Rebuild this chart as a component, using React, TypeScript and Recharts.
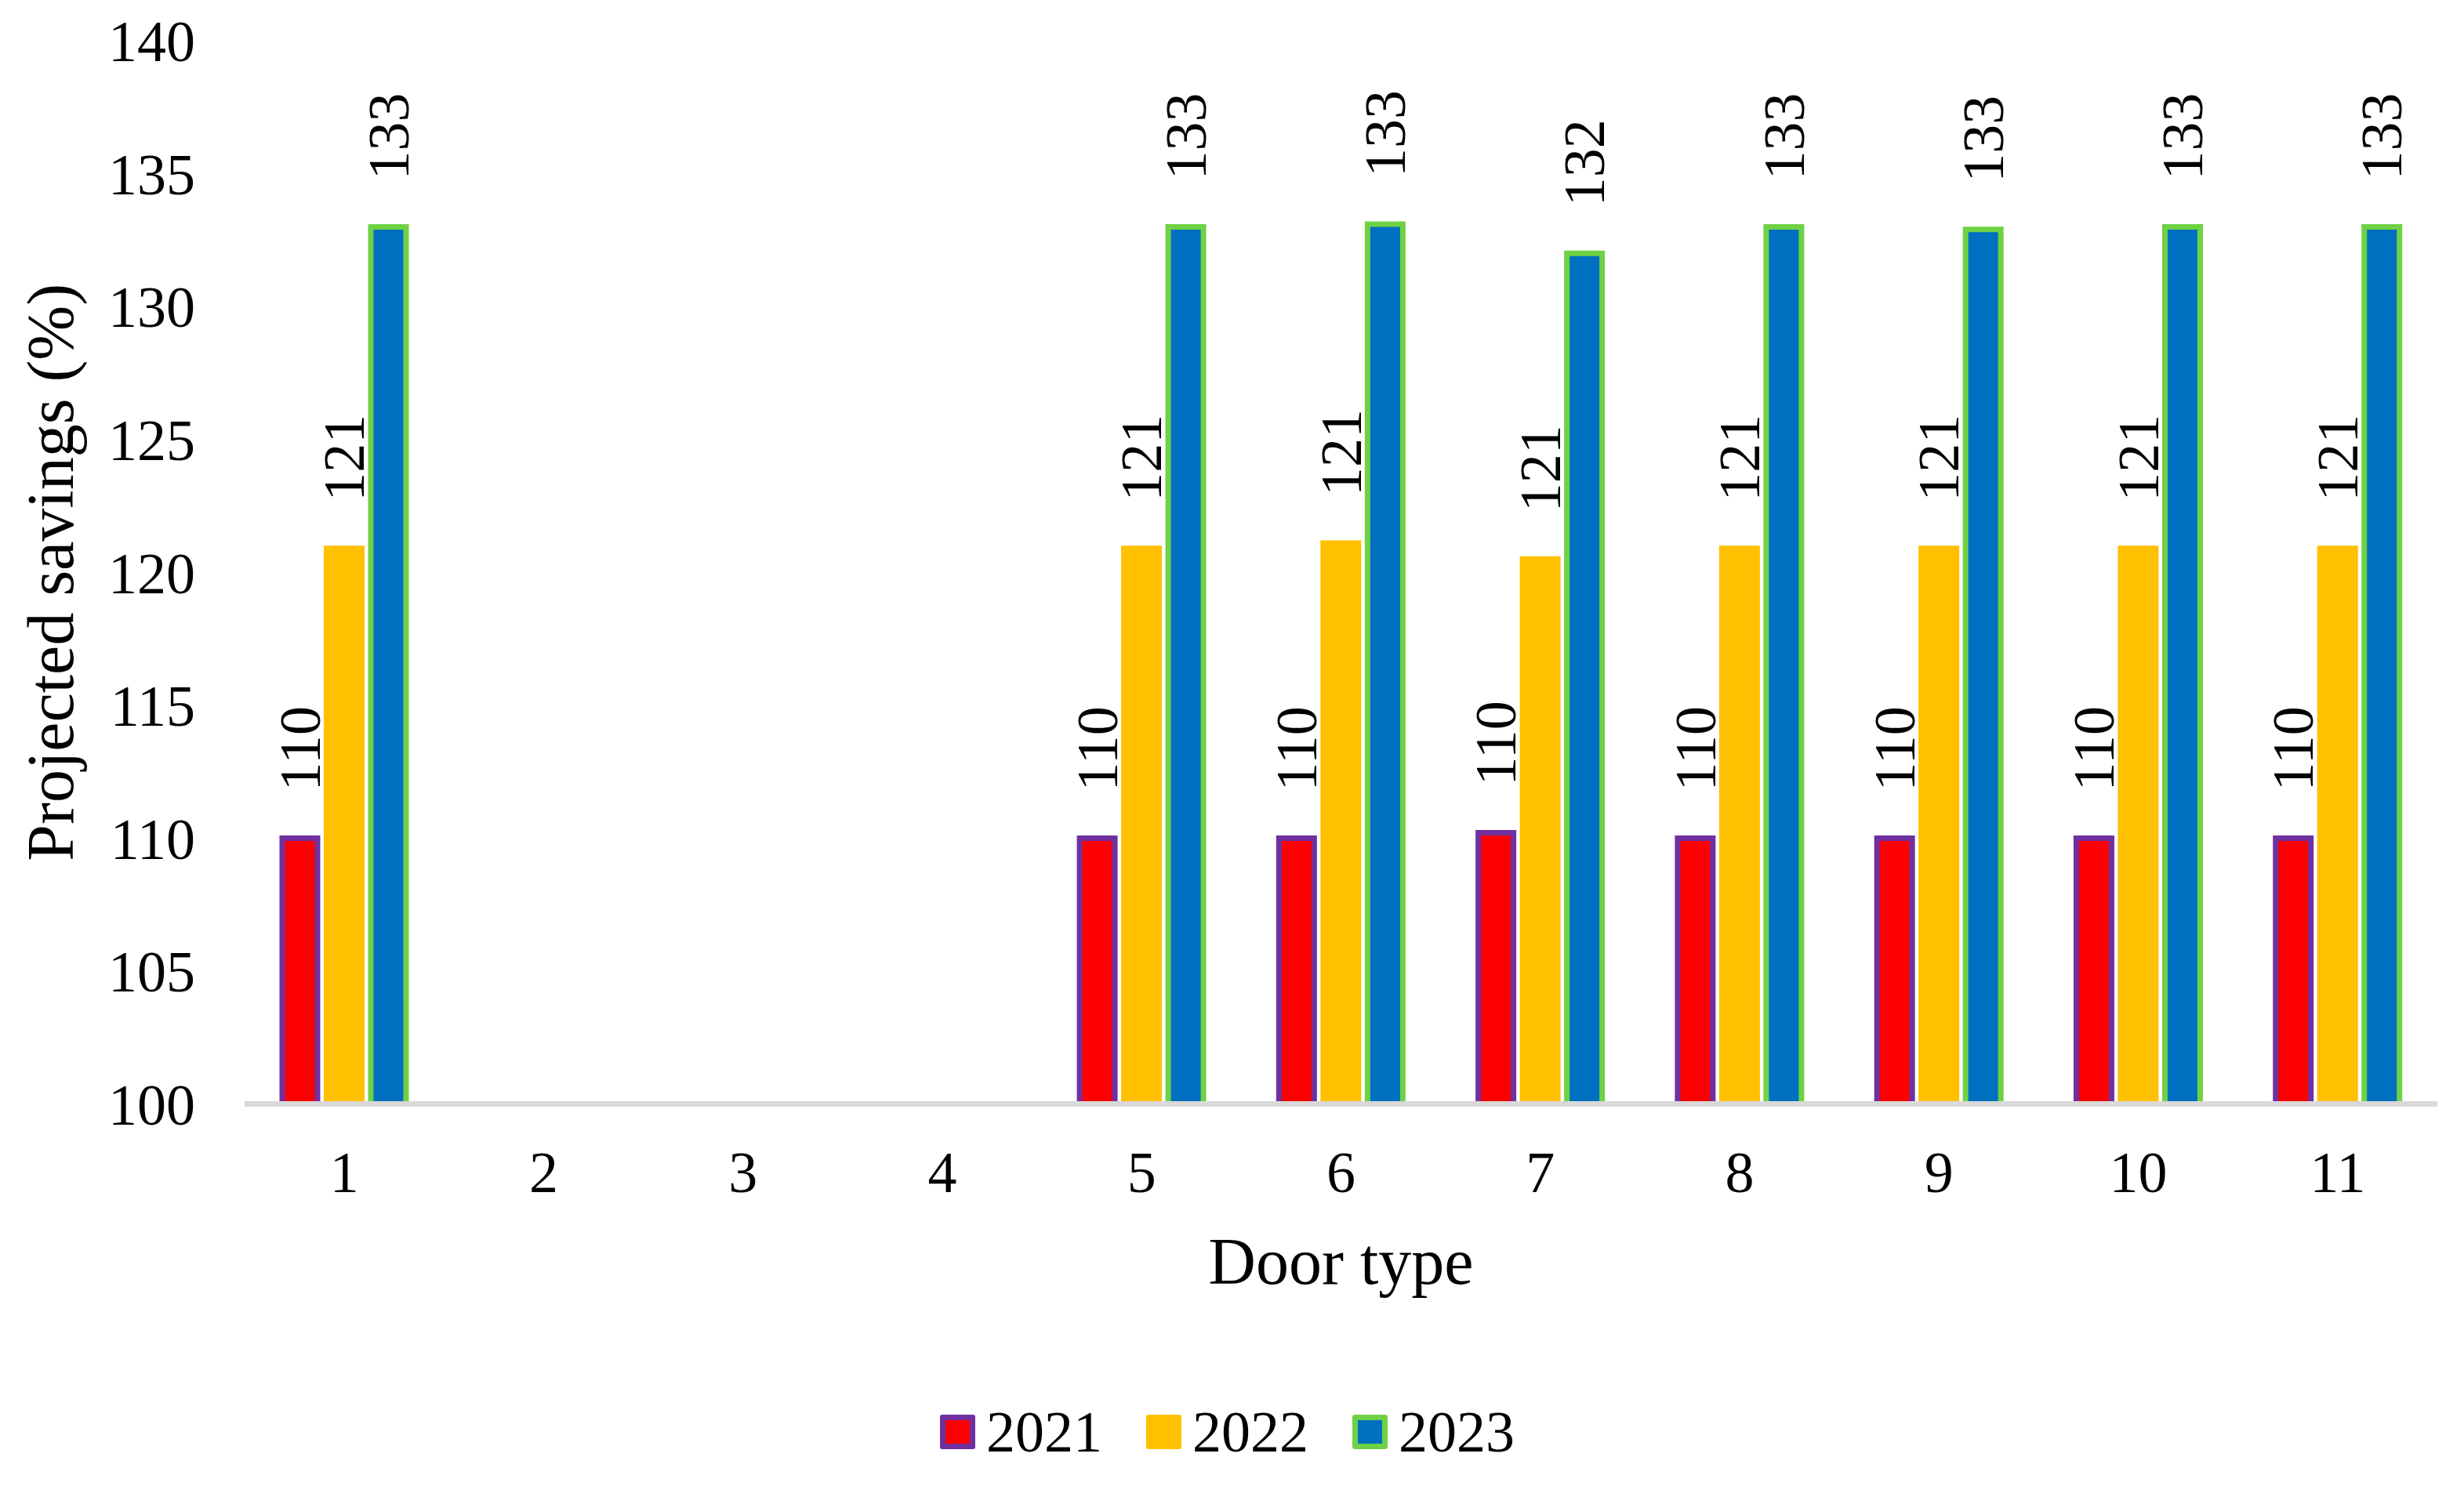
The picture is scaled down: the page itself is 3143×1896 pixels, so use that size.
import React from 'react';
import { BarChart, Bar, XAxis, YAxis, Legend, LabelList } from 'recharts';

const doorTypes = ['1', '2', '3', '4', '5', '6', '7', '8', '9', '10', '11'];
const savings2021 = [110, 0, 0, 0, 110, 110, 110.2, 110, 110, 110, 110];
const savings2022 = [120.9, 0, 0, 0, 120.9, 121.1, 120.5, 120.9, 120.9, 120.9, 120.9];
const savings2023 = [133, 0, 0, 0, 133, 133.1, 132, 133, 132.9, 133, 133];
const yTicks = [100, 105, 110, 115, 120, 125, 130, 135, 140];

const seriesList = [
    { key: 'y2021', name: '2021', fill: '#FF0000', stroke: '#7030A0' },
    { key: 'y2022', name: '2022', fill: '#FFC000', stroke: '#FFC000' },
    { key: 'y2023', name: '2023', fill: '#0070C0', stroke: '#6FD144' },
];

const data = doorTypes.map((name, i) => ({
    name,
    y2021: savings2021[i],
    y2022: savings2022[i],
    y2023: savings2023[i],
}));

const FONT = "'Times New Roman', 'Liberation Serif', serif";

// vertical value label, drawn a little above the top of each bar
const renderValueLabel = (props: any) => {
    const { x, y, width, value } = props;
    if (value == null || value < 100) return null;
    const cx = x + width / 2;
    const ty = y - 60;
    return (
        <text
            x={cx}
            y={ty}
            dy="0.34em"
            transform={`rotate(-90, ${cx}, ${ty})`}
            textAnchor="start"
            fontFamily={FONT}
            fontSize={74}
            fill="#000"
        >
            {Math.round(value)}
        </text>
    );
};

const renderLegend = () => (
    <div
        style={{
            height: 72,
            display: 'flex',
            justifyContent: 'center',
            alignItems: 'center',
            paddingLeft: 14,
            fontFamily: FONT,
            fontSize: 74,
            color: '#000',
        }}
    >
        {seriesList.map((s, i) => (
            <div
                key={s.key}
                style={{ display: 'flex', alignItems: 'center', marginLeft: i === 0 ? 0 : 56 }}
            >
                <span
                    style={{
                        display: 'inline-block',
                        boxSizing: 'border-box',
                        width: 45,
                        height: 44,
                        background: s.fill,
                        border: `7px solid ${s.stroke}`,
                        borderRadius: 3,
                        marginRight: 14,
                    }}
                />
                <span style={{ lineHeight: '72px' }}>{s.name}</span>
            </div>
        ))}
    </div>
);

const App = () => {
    return (
        <BarChart
            width={3127}
            height={1880}
            data={data}
            margin={{ top: 44, right: 26, left: 0, bottom: 25 }}
            barSize={45}
            barGap={11.5}
        >
            <YAxis
                type="number"
                domain={[100, 140]}
                ticks={yTicks}
                allowDataOverflow
                axisLine={false}
                tickLine={false}
                tickMargin={63}
                tickSize={0}
                width={304}
                tick={{ fontFamily: FONT, fontSize: 74, fill: '#000' }}
                label={{
                    value: 'Projected savings (%)',
                    angle: -90,
                    position: 'insideLeft',
                    offset: 55,
                    style: { textAnchor: 'middle', fontFamily: FONT, fontSize: 84, fill: '#000' },
                }}
            />
            {seriesList.map((s) => (
                <Bar
                    key={s.key}
                    dataKey={s.key}
                    name={s.name}
                    fill={s.fill}
                    stroke={s.stroke}
                    strokeWidth={7}
                    isAnimationActive={false}
                >
                    <LabelList dataKey={s.key} content={renderValueLabel} />
                </Bar>
            ))}
            <XAxis
                dataKey="name"
                type="category"
                height={382.5}
                axisLine={{ stroke: '#D9D9D9', strokeWidth: 7 }}
                tickLine={false}
                tickSize={0}
                tickMargin={60}
                interval={0}
                tick={{ fontFamily: FONT, fontSize: 74, fill: '#000' }}
                label={{
                    value: 'Door type',
                    position: 'insideBottom',
                    offset: 153,
                    style: { fontFamily: FONT, fontSize: 84, fill: '#000' },
                }}
            />
            <Legend verticalAlign="bottom" content={renderLegend} />
        </BarChart>
    );
};

export default App;
